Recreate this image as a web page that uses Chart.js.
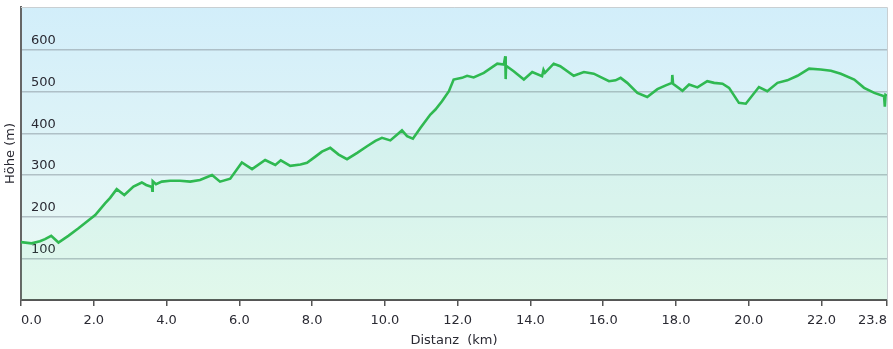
<!DOCTYPE html>
<html>
<head>
<meta charset="utf-8">
<script src="https://cdn.jsdelivr.net/npm/chart.js@4.4.0/dist/chart.umd.min.js"></script>
<style>
  html, body { margin: 0; padding: 0; background: #fff; }
</style>
</head>
<body>
<canvas id="profile" width="893" height="349"></canvas>
<script>
// Höhenprofil: Distanz in km, Höhe in m
const distKm = [
  0.00, 0.29, 0.52, 0.66, 0.83, 1.03, 1.30, 1.58, 1.84, 2.04,
  2.31, 2.45, 2.63, 2.84, 3.09, 3.32, 3.44, 3.60, 3.61, 3.62,
  3.71, 3.87, 4.10, 4.37, 4.65, 4.92, 5.25, 5.47, 5.75, 6.07,
  6.35, 6.71, 6.99, 7.14, 7.40, 7.68, 7.86, 8.09, 8.27, 8.50,
  8.73, 8.96, 9.24, 9.51, 9.74, 9.92, 10.15, 10.34, 10.47, 10.61,
  10.77, 10.98, 11.25, 11.39, 11.57, 11.76, 11.89, 12.12, 12.26, 12.44,
  12.72, 13.09, 13.27, 13.31, 13.32, 13.33, 13.54, 13.82, 14.05, 14.32,
  14.36, 14.40, 14.64, 14.82, 15.19, 15.47, 15.74, 16.16, 16.34, 16.48,
  16.66, 16.94, 17.21, 17.49, 17.72, 17.89, 17.90, 17.92, 18.18, 18.36,
  18.59, 18.86, 19.05, 19.28, 19.46, 19.73, 19.92, 20.28, 20.51, 20.79,
  21.06, 21.34, 21.66, 21.98, 22.26, 22.53, 22.90, 23.17, 23.45, 23.72,
  23.74, 23.76, 23.80
];
const heightM = [
  139, 136, 141, 146, 154, 138, 154, 172, 190, 204,
  232, 245, 266, 252, 272, 282, 276, 271, 262, 285,
  278, 284, 286, 286, 284, 288, 300, 284, 291, 330,
  314, 336, 324, 335, 322, 325, 329, 344, 356, 365,
  349, 338, 353, 369, 382, 389, 383, 397, 407, 393,
  387, 413, 445, 457, 477, 501, 529, 533, 538, 534,
  545, 567, 565, 585, 530, 562, 549, 529, 547, 537,
  552, 545, 567, 561, 538, 547, 543, 525, 527, 533,
  521, 497, 487, 506, 515, 521, 540, 519, 502, 517,
  510, 525, 521, 519, 509, 473, 471, 511, 501, 521,
  527, 538, 555, 553, 550, 543, 529, 509, 497, 489,
  464, 492, 490
];
const xTicks = [0, 2, 4, 6, 8, 10, 12, 14, 16, 18, 20, 22, 23.8];
const yTicks = [100, 200, 300, 400, 500, 600];

const points = distKm.map((d, i) => ({ x: d, y: heightM[i] }));

const chartBg = {
  id: 'chartBg',
  beforeDraw(chart) {
    const { ctx, chartArea: a } = chart;
    const g = ctx.createLinearGradient(0, a.top, 0, a.bottom);
    g.addColorStop(0, '#d2eefa');
    g.addColorStop(1, '#ecfaf4');
    ctx.save();
    ctx.fillStyle = g;
    ctx.fillRect(a.left, a.top, a.right - a.left, a.bottom - a.top);
    ctx.restore();
  },
  afterDraw(chart) {
    const { ctx, chartArea: a } = chart;
    ctx.save();
    ctx.strokeStyle = '#c9cfd2';
    ctx.lineWidth = 1;
    ctx.beginPath();
    ctx.moveTo(a.left, a.top + 0.5);
    ctx.lineTo(a.right + 0.5, a.top + 0.5);
    ctx.lineTo(a.right + 0.5, a.bottom);
    ctx.stroke();
    ctx.restore();
  }
};

const font = { family: 'DejaVu Sans, Verdana, sans-serif', size: 13 };
const textColor = '#2a2a33';

// no extra label padding, the plot box is fixed
const fixPad = s => { s.paddingTop = 0; s.paddingBottom = 0; s.paddingLeft = 0; s.paddingRight = 0; };

new Chart(document.getElementById('profile'), {
  type: 'line',
  data: {
    datasets: [{
      data: points,
      borderColor: '#2fb951',
      borderWidth: 2.6,
      backgroundColor: 'rgba(90, 220, 130, 0.07)',
      fill: 'origin',
      pointRadius: 0,
      tension: 0
    }]
  },
  options: {
    responsive: false,
    animation: false,
    layout: { padding: { top: 7, right: 6, left: 0, bottom: 0 } },
    plugins: { legend: { display: false }, tooltip: { enabled: false } },
    scales: {
      x: {
        type: 'linear',
        min: 0,
        max: 23.8,
        afterBuildTicks: s => { s.ticks = xTicks.map(v => ({ value: v })); },
        afterFit: s => { s.height = 49; fixPad(s); },
        grid: { drawOnChartArea: false, drawTicks: true, tickLength: 6, color: '#555', lineWidth: 1.5 },
        border: { color: '#555', width: 2 },
        ticks: {
          align: 'inner',
          padding: 7,
          maxRotation: 0,
          autoSkip: false,
          color: textColor,
          font: font,
          callback: v => Number(v).toFixed(1)
        },
        title: { display: true, text: 'Distanz  (km)', color: textColor, font: font, padding: { top: 0, bottom: 1 } }
      },
      y: {
        min: 0,
        max: 703,
        afterBuildTicks: s => { s.ticks = yTicks.map(v => ({ value: v })); },
        afterFit: s => { s.width = 21; fixPad(s); },
        grid: { drawTicks: false, color: 'rgba(150, 165, 172, 0.65)', lineWidth: 1.5 },
        border: { color: '#666', width: 2 },
        ticks: {
          mirror: true,
          padding: 10,
          labelOffset: -9,
          color: textColor,
          font: font
        },
        title: { display: true, text: 'Höhe (m)', color: textColor, font: font, padding: { top: 3, bottom: 0 } }
      }
    }
  },
  plugins: [chartBg]
});
</script>
</body>
</html>
